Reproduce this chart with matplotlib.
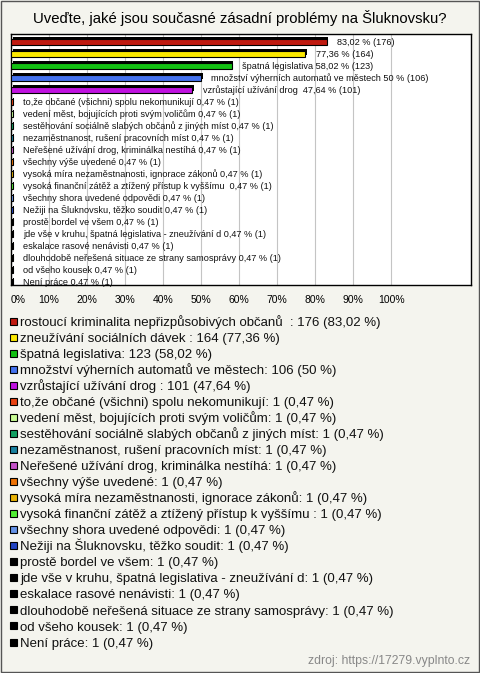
import numpy as np
import matplotlib
matplotlib.use('Agg')
import matplotlib.pyplot as plt
from matplotlib.patches import Rectangle

plt.rcParams['font.family'] = ['Liberation Sans', 'DejaVu Sans']

TITLE = 'Uveďte, jaké jsou současné zásadní problémy na Šluknovsku?'
SOURCE = 'zdroj: https://17279.vyplnto.cz'

# answer names as they appear in the legend
names = [
    'rostoucí kriminalita nepřizpůsobivých občanů  ',
    'zneužívání sociálních dávek ',
    'špatná legislativa',
    'množství výherních automatů ve městech',
    'vzrůstající užívání drog ',
    'to,že občané (všichni) spolu nekomunikují',
    'vedení měst, bojujících proti svým voličům',
    'sestěhování sociálně slabých občanů z jiných míst',
    'nezaměstnanost, rušení pracovních míst',
    'Neřešené užívání drog, kriminálka nestíhá',
    'všechny výše uvedené',
    'vysoká míra nezaměstnanosti, ignorace zákonů',
    'vysoká finanční zátěž a ztížený přístup k vyššímu ',
    'všechny shora uvedené odpovědi',
    'Nežiji na Šluknovsku, těžko soudit',
    'prostě bordel ve všem',
    'jde vše v kruhu, špatná legislativa - zneužívání d',
    'eskalace rasové nenávisti',
    'dlouhodobě neřešená situace ze strany samosprávy',
    'od všeho kousek',
    'Není práce',
]
# bar labels in the chart drop the name on the two longest bars
show_name = [False, False] + [True] * (len(names) - 2)
counts = [176, 164, 123, 106, 101] + [1] * 16
percents = [83.02, 77.36, 58.02, 50.0, 47.64] + [0.47] * 16
colors = ['#c01a10', '#fbe800', '#12c012', '#4472ee', '#c012e0',
          '#e84212', '#c8fc94', '#12a062', '#1a82a0', '#c452c8',
          '#ee7204', '#e8b204', '#52ee34', '#6492e6', '#2244c2'] + ['#000000'] * 6
ticks = np.arange(0, 101, 10)


def fmt_pct(v):
    s = f'{v:.2f}'.rstrip('0').rstrip('.')
    return s.replace('.', ',') + ' %'


W, H = 480, 673
BG = '#f4f4ee'
fig = plt.figure(figsize=(W / 100, H / 100), dpi=100, facecolor=BG)
fig.patches.append(Rectangle((0.003, 0.002), 0.994, 0.996, transform=fig.transFigure,
                             fill=False, edgecolor='#555555', linewidth=1.0))
fig.text(0.5, 1 - 18 / H, TITLE, ha='center', va='center', fontsize=10.7)

ax = fig.add_axes([11 / W, 1 - 285 / H, 460 / W, 251 / H])
ax.set_facecolor('white')
y = np.arange(len(names))

# shadow + bar to imitate the 3D look
ax.barh(y - 0.1, percents, left=0.45, height=0.5, color='black', zorder=2)
ax.barh(y, percents, height=0.5, color=colors[:len(names)], edgecolor='black',
        linewidth=0.8, zorder=3)

for yi, name, p, c, sh in zip(y, names, percents, counts, show_name):
    txt = (name + ' ' if sh else '') + f'{fmt_pct(p)} ({c})'
    ax.annotate(txt, (p, yi), xytext=(7.5, -2.3), textcoords='offset points',
                ha='left', va='baseline', fontsize=6.55, color='#111111', zorder=4)

ax.set_xlim(0, 121)
ax.set_ylim(len(names) - 0.73, -0.64)
ax.set_yticks([])
ax.set_xticks(ticks)
ax.set_xticklabels([f'{t}%' for t in ticks], fontsize=7.5)
ax.get_xticklabels()[0].set_horizontalalignment('left')
ax.tick_params(axis='x', length=0, pad=7)
ax.grid(axis='x', color='#c4c4c4', linewidth=0.8, zorder=1)
ax.set_axisbelow(True)
for sp in ax.spines.values():
    sp.set_linewidth(1.0)
    sp.set_color('black')

# legend below the chart, fixed row pitch
row0, pitch = 321, 16.05
for i, (n, c, p, col) in enumerate(zip(names, counts, percents, colors)):
    yc = row0 + i * pitch
    fig.patches.append(Rectangle((10 / W, 1 - (yc + 3.5) / H), 7 / W, 7 / H,
                                 transform=fig.transFigure, facecolor=col,
                                 edgecolor='black', linewidth=0.8))
    fig.text(20 / W, 1 - (yc + 4.6) / H, f'{n}: {c} ({fmt_pct(p)})', ha='left',
             va='baseline', fontsize=9.5, color='#111111')

fig.text(1 - 10 / W, 1 - 661 / H, SOURCE, ha='right', va='center',
         fontsize=8.8, color='#888888')

fig.savefig('out.png', dpi=100, facecolor=BG)
